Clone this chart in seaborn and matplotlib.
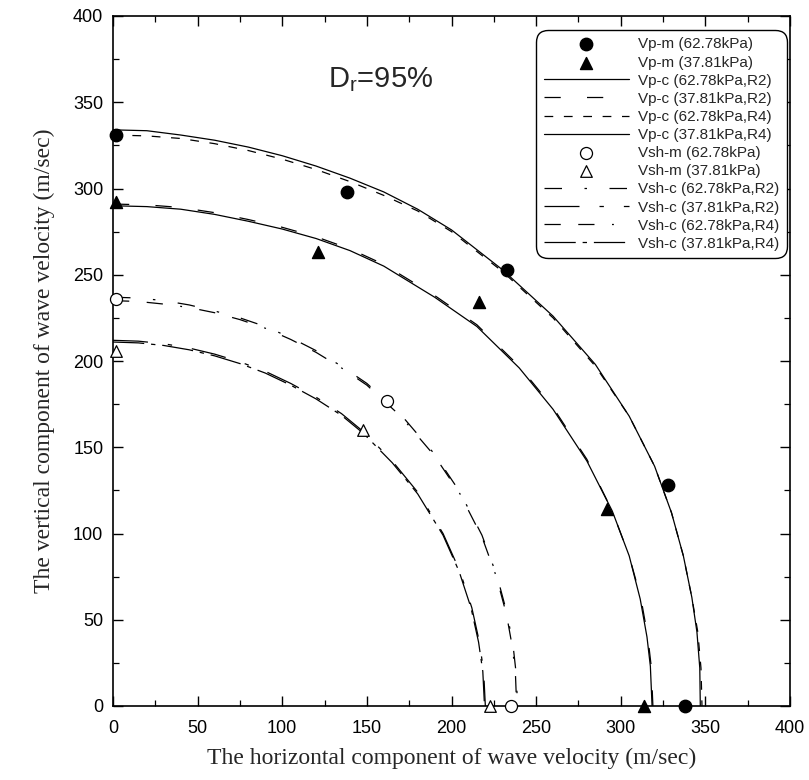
import matplotlib
matplotlib.use("Agg")
import matplotlib.pyplot as plt
import seaborn as sns
from matplotlib.ticker import MultipleLocator

# ---- measured points ----
vp_m_hi_x = [2, 138, 233, 328, 338]
vp_m_hi_y = [331, 298, 253, 128, 0]
vp_m_lo_x = [2, 121, 216, 292, 314]
vp_m_lo_y = [292, 263, 234, 114, 0]
vsh_m_hi_x = [2, 162, 235]
vsh_m_hi_y = [236, 177, 0]
vsh_m_lo_x = [2, 148, 223]
vsh_m_lo_y = [206, 160, 0]

# ---- computed curves ----
vp_c_hi_r2_x = [0, 20, 40, 60, 80, 100, 120, 140, 160, 180, 200, 230, 260, 285, 305, 320, 330, 337, 342, 345, 346.7, 347]
vp_c_hi_r2_y = [334, 333.5, 331, 328, 324, 319, 313, 306, 298, 288, 276, 253, 226, 198, 168, 139, 112, 87, 63, 43, 22, 0]
vp_c_hi_r4_x = [0, 20, 40, 60, 80, 100, 120, 140, 160, 180, 200, 230, 260, 285, 305, 320, 330, 337, 342, 345.5, 347.4, 348]
vp_c_hi_r4_y = [331, 330.5, 329, 326, 322, 317, 311, 304, 296, 287, 275, 252, 225, 197, 168, 139, 112, 87, 63, 43, 22, 0]
vp_c_lo_r2_x = [0, 20, 40, 60, 80, 100, 120, 140, 160, 190, 215, 240, 260, 280, 295, 305, 312, 316, 318, 319]
vp_c_lo_r2_y = [291, 290.5, 289, 286, 282, 277.5, 272, 265, 256, 238, 221, 197, 173, 143, 113, 87, 62, 40, 23, 0]
vp_c_lo_r4_x = [0, 20, 40, 60, 80, 100, 120, 140, 160, 190, 215, 240, 260, 280, 295, 305, 311.5, 315.5, 317.5, 318.5]
vp_c_lo_r4_y = [290, 289.5, 288, 285, 281, 276.5, 271, 264, 255, 237, 220, 196, 172, 142, 113, 87, 62, 40, 23, 0]

vsh_c_hi_r2_x = [0, 15, 30, 45, 60, 75, 90, 105, 120, 135, 150, 170, 190, 205, 218, 227, 233, 236.5, 238.3, 239]
vsh_c_hi_r2_y = [237, 236.5, 235, 232.5, 229, 225, 220, 213.5, 206, 197, 187, 169, 146, 124, 99, 75, 53, 34, 18, 0]
vsh_c_hi_r4_x = [0, 15, 30, 45, 60, 75, 90, 105, 120, 135, 150, 170, 190, 205, 218, 226.5, 232.5, 236, 237.8, 238.5]
vsh_c_hi_r4_y = [235, 234.5, 233, 231, 228, 224, 219, 212.5, 205, 196, 186, 168, 145, 123, 98, 75, 53, 34, 18, 0]
vsh_c_lo_r2_x = [0, 15, 30, 45, 60, 75, 90, 105, 120, 135, 148, 165, 180, 195, 205, 212, 216.5, 219, 220]
vsh_c_lo_r2_y = [212, 211.5, 210, 207.5, 204, 199.5, 194, 187, 179, 169.5, 159, 142, 124, 100, 78, 57, 37, 20, 0]
vsh_c_lo_r4_x = [0, 15, 30, 45, 60, 75, 90, 105, 120, 135, 148, 165, 180, 195, 204.5, 211.5, 216, 218.5, 219.5]
vsh_c_lo_r4_y = [211, 210.5, 209, 206.5, 203, 198.5, 193, 186, 178, 168.5, 158, 141, 123, 99, 78, 57, 37, 20, 0]

ticks = [0, 50, 100, 150, 200, 250, 300, 350, 400]

sns.set_theme(style="ticks")
plt.rcParams['font.family'] = ['Liberation Sans', 'DejaVu Sans']
plt.rcParams['mathtext.fontset'] = 'custom'
plt.rcParams['mathtext.rm'] = 'Liberation Sans'

fig = plt.figure(figsize=(8.09, 7.80), dpi=100)
ax = fig.add_axes([113/809, 1-706/780, 677/809, 690/780])

def curve(x, y, label, ls):
    sns.lineplot(x=x, y=y, ax=ax, sort=False, estimator=None, color='black',
                 lw=0.9, label=label)
    ax.lines[-1].set_linestyle(ls)

curve(vp_c_hi_r2_x, vp_c_hi_r2_y, "Vp-c (62.78kPa,R2)", '-')
curve(vp_c_lo_r2_x, vp_c_lo_r2_y, "Vp-c (37.81kPa,R2)", (0, (13, 21)))
curve(vp_c_hi_r4_x, vp_c_hi_r4_y, "Vp-c (62.78kPa,R4)", (0, (7, 8.5)))
curve(vp_c_lo_r4_x, vp_c_lo_r4_y, "Vp-c (37.81kPa,R4)", '-')
curve(vsh_c_hi_r2_x, vsh_c_hi_r2_y, "Vsh-c (62.78kPa,R2)", (0, (14, 18, 2, 18)))
curve(vsh_c_lo_r2_x, vsh_c_lo_r2_y, "Vsh-c (37.81kPa,R2)", (0, (28, 16, 3.5, 16)))
curve(vsh_c_hi_r4_x, vsh_c_hi_r4_y, "Vsh-c (62.78kPa,R4)", (0, (13, 14, 13, 14, 1.5, 14)))
curve(vsh_c_lo_r4_x, vsh_c_lo_r4_y, "Vsh-c (37.81kPa,R4)", (0, (25, 5.5, 3.5, 5.5)))

def pts(x, y, label, marker, filled, s):
    sns.scatterplot(x=x, y=y, ax=ax, marker=marker, s=s,
                    color='black' if filled else 'white',
                    edgecolor='black', linewidth=1 if filled else 0.9,
                    label=label, clip_on=False, zorder=5)

pts(vp_m_hi_x, vp_m_hi_y, "Vp-m (62.78kPa)", 'o', True, 80)
pts(vp_m_lo_x, vp_m_lo_y, "Vp-m (37.81kPa)", '^', True, 75)
pts(vsh_m_hi_x, vsh_m_hi_y, "Vsh-m (62.78kPa)", 'o', False, 75)
pts(vsh_m_lo_x, vsh_m_lo_y, "Vsh-m (37.81kPa)", '^', False, 70)

order = ["Vp-m (62.78kPa)", "Vp-m (37.81kPa)",
         "Vp-c (62.78kPa,R2)", "Vp-c (37.81kPa,R2)", "Vp-c (62.78kPa,R4)", "Vp-c (37.81kPa,R4)",
         "Vsh-m (62.78kPa)", "Vsh-m (37.81kPa)",
         "Vsh-c (62.78kPa,R2)", "Vsh-c (37.81kPa,R2)", "Vsh-c (62.78kPa,R4)", "Vsh-c (37.81kPa,R4)"]
h, l = ax.get_legend_handles_labels()
hm = dict(zip(l, h))
leg = ax.legend([hm[k] for k in order], order, loc='upper right',
                bbox_to_anchor=(0.996, 0.98), borderaxespad=0,
                fontsize=11, handlelength=5.6, handletextpad=0.6,
                labelspacing=0.27, borderpad=0.5, fancybox=True,
                frameon=True, edgecolor='black', framealpha=1)
leg.get_frame().set_linewidth(1.0)
leg.get_frame().set_boxstyle('round', pad=0, rounding_size=0.8)

ax.set_xlim(0, 400)
ax.set_ylim(0, 400)
ax.set_xticks(ticks)
ax.set_yticks(ticks)
ax.xaxis.set_minor_locator(MultipleLocator(25))
ax.yaxis.set_minor_locator(MultipleLocator(25))
ax.tick_params(which='both', direction='in', top=True, right=True, colors='black')
ax.tick_params(which='major', length=7.5, width=1)
ax.tick_params(which='minor', length=4.5, width=0.9)
ax.tick_params(axis='x', which='major', labelsize=13, pad=10)
ax.tick_params(axis='y', which='major', labelsize=13, pad=7)
for sp in ax.spines.values():
    sp.set_linewidth(1.2)
    sp.set_color('black')

ax.set_xlabel("The horizontal component of wave velocity (m/sec)",
              fontfamily='Liberation Serif', fontsize=17, labelpad=8)
ax.set_ylabel("The vertical component of wave velocity (m/sec)",
              fontfamily='Liberation Serif', fontsize=17, labelpad=13)

ax.text(127, 363, r"D$_\mathregular{r}$=95%", fontsize=21, va='center', ha='left')

fig.savefig("out.png", dpi=100)
